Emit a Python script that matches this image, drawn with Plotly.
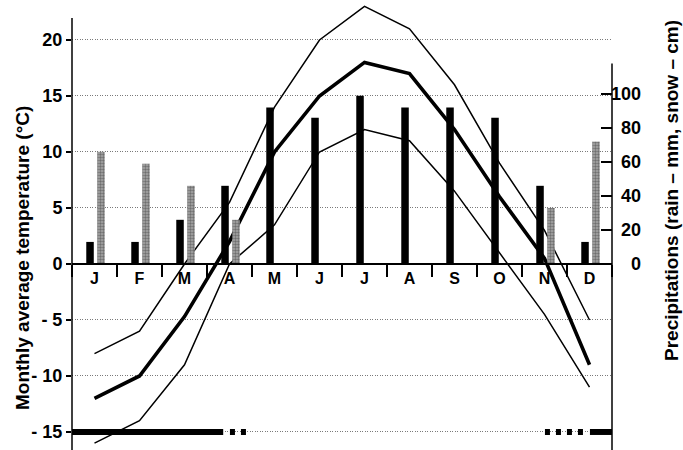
import plotly.graph_objects as go

# ---------------- data ----------------
months = ["Jan", "Feb", "Mar", "Apr", "May", "Jun", "Jul", "Aug", "Sep", "Oct", "Nov", "Dec"]
month_letters = ["J", "F", "M", "A", "M", "J", "J", "A", "S", "O", "N", "D"]

temp_max = [-8, -6, 0, 5.5, 14, 20, 23, 21, 16, 9, 3, -5]
temp_mean = [-12, -10, -4.7, 2, 10, 15, 18, 17, 12, 6, 0.5, -9]
temp_min = [-16, -14, -9, 0, 3.5, 10, 12, 11, 6.5, 1, -4.5, -11]

rain_mm = [13, 13, 26, 46, 92, 86, 99, 92, 92, 86, 46, 13]
snow_cm = [66, 59, 46, 26, 0, 0, 0, 0, 0, 0, 33, 72]

temp_ticks = [20, 15, 10, 5, 0, -5, -10, -15]
temp_tick_text = ["20", "15", "10", "5", "0", "- 5", "- 10", "- 15"]
precip_ticks = [0, 20, 40, 60, 80, 100]

# snow cover periods, in months from 1 January
snow_cover_continuous = [(0, 3.36), (11.51, 12)]
snow_cover_intermittent = [(3.51, 3.87), (10.51, 11.38)]
SNOW_COVER_LEVEL = -15

# ---------------- style ----------------
FONT = "Liberation Sans, Arial, sans-serif"
T_RANGE = [-16.61, 23.57]
P_RANGE = [-109.4, 155.3]
BAR_W = 0.167

fig = go.Figure()

fig.add_trace(go.Bar(
    x=months, y=rain_mm, yaxis="y2", width=BAR_W, offset=-0.183,
    marker=dict(color="black", line=dict(width=0)), name="rain"))
fig.add_trace(go.Bar(
    x=months, y=snow_cm, yaxis="y2", width=BAR_W, offset=0.061,
    marker=dict(color="#a8a8a8", line=dict(width=0),
                pattern=dict(shape=".", fgcolor="#333333", size=3, solidity=0.5)),
    name="snow"))

for series, w in ((temp_max, 1.5), (temp_min, 1.5), (temp_mean, 3.6)):
    fig.add_trace(go.Scatter(x=months, y=series, mode="lines",
                             line=dict(color="black", width=w), hoverinfo="skip"))

for a, b in snow_cover_continuous:
    fig.add_trace(go.Scatter(x=[a, b], y=[SNOW_COVER_LEVEL] * 2, xaxis="x2", mode="lines",
                             line=dict(color="black", width=6)))
for a, b in snow_cover_intermittent:
    fig.add_trace(go.Scatter(x=[a, b], y=[SNOW_COVER_LEVEL] * 2, xaxis="x2", mode="lines",
                             line=dict(color="black", width=6, dash="5px,6px")))

zero_pos = -T_RANGE[0] / (T_RANGE[1] - T_RANGE[0])
bold18 = dict(family=FONT, size=18, color="black", weight="bold")

fig.update_layout(
    width=683, height=450,
    margin=dict(l=72, r=71, t=0, b=0),
    plot_bgcolor="white", paper_bgcolor="white",
    showlegend=False, barmode="overlay",
    xaxis=dict(type="category", categoryorder="array", categoryarray=months,
               tickmode="array", tickvals=months, ticktext=month_letters,
               tickson="boundaries", ticks="outside", ticklen=12, tickwidth=1.5,
               tickcolor="black", showline=True, linecolor="black", linewidth=1.5,
               anchor="free", position=zero_pos, showgrid=False, zeroline=False,
               range=[-0.5, 11.5], tickfont=dict(family=FONT, size=16, color="black", weight="bold")),
    xaxis2=dict(overlaying="x", range=[0, 12], visible=False, anchor="y"),
    yaxis=dict(range=T_RANGE, tickmode="array", tickvals=temp_ticks, ticktext=temp_tick_text,
               ticks="outside", ticklen=5, tickwidth=1.5, tickcolor="black",
               showgrid=True, gridcolor="#7a7a7a", griddash="1px,1.5px", gridwidth=1,
               zeroline=False, showline=False, tickfont=bold18),
    yaxis2=dict(overlaying="y", side="right", anchor="x", range=P_RANGE,
                tickmode="array", tickvals=[v for v in precip_ticks if v > 0],
                ticks="inside", ticklen=11, tickwidth=1.5, tickcolor="black",
                showticklabels=False, showgrid=False, zeroline=False, showline=False),
)

# axis lines
fig.add_shape(type="line", xref="paper", x0=0, x1=0, yref="y", y0=T_RANGE[0], y1=21.96,
              line=dict(color="black", width=1.5))
fig.add_shape(type="line", xref="paper", x0=1, x1=1, yref="y2", y0=P_RANGE[0], y1=118,
              line=dict(color="black", width=1.5))

# right tick labels (right-aligned)
for v in precip_ticks:
    fig.add_annotation(x=(643 - 72) / 540, xref="paper", xanchor="right", y=v, yref="y2",
                       yanchor="middle", text=str(v), showarrow=False, font=bold18)

fig.add_annotation(x=(22 - 72) / 540, xref="paper", xanchor="center",
                   y=1 - 258 / 450, yref="paper", yanchor="middle",
                   text="Monthly average temperature (°C)", textangle=-90, showarrow=False,
                   font=dict(family=FONT, size=19, color="black", weight="bold"))
fig.add_annotation(x=(672 - 72) / 540, xref="paper", xanchor="center",
                   y=1 - 191 / 450, yref="paper", yanchor="middle",
                   text="Precipitations (rain – mm, snow – cm)", textangle=-90, showarrow=False,
                   font=dict(family=FONT, size=19, color="black", weight="bold"))

fig.write_html("out.html", config={"displayModeBar": False},
               post_script="document.body.style.margin='0';")
